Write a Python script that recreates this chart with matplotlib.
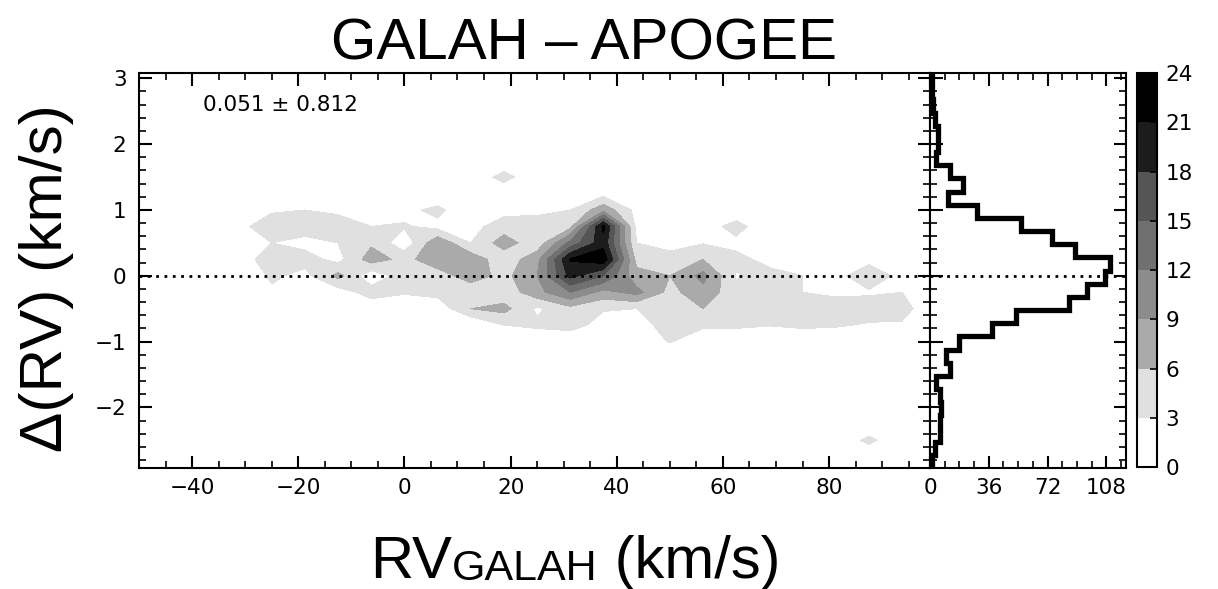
import numpy as np
import matplotlib
matplotlib.use("Agg")
import matplotlib.pyplot as plt
from matplotlib.ticker import MultipleLocator

# ======================== DATA ========================
# grid nodes of the 2D density (RV_GALAH, delta RV)
rv_nodes = [-50.0, -43.75, -37.5, -31.25, -25.0, -18.75, -12.5, -6.25, 0.0,
            6.25, 12.5, 18.75, 25.0, 31.25, 37.5, 43.75, 50.0, 56.25, 62.5,
            68.75, 75.0, 81.25, 87.5, 93.75, 100.0]
drv_nodes = [-3.0, -2.75, -2.5, -2.25, -2.0, -1.75, -1.5, -1.25, -1.0, -0.75,
             -0.5, -0.25, 0.0, 0.25, 0.5, 0.75, 1.0, 1.25, 1.5, 1.75, 2.0,
             2.25, 2.5, 2.75, 3.0]

# density block: rows dRV = 1.5 ... -1.0, columns RV = -31.25 ... 93.75
block_rv = rv_nodes[3:24]
block_drv = [1.5, 1.25, 1.0, 0.75, 0.5, 0.25, 0.0, -0.25, -0.5, -0.75, -1.0]
density_block = [
    [0, 0, 0, 0, 0, 0, 0, 0, 4.5, 0, 0, 1, 0, 0, 0, 0, 0, 0, 0, 0, 0],
    [0, 0, 1, 1, 0, 0, 0, 0, 0, 1, 1, 2, 1, 0, 0, 0, 0, 0, 0, 0, 0],
    [0, 2.5, 3, 2.6, 1.5, 2, 4, 0, 2, 2, 3, 8, 2, 1, 0, 0, 0, 0, 0, 0, 0],
    [2, 5, 4.5, 4, 3.0, 3.3, 2, 2, 4.5, 5, 5, 21.8, 2, 1, 1, 4.5, 0, 0, 0, 0, 0],
    [1, 3, 2, 3, 5.5, 1, 8.4, 3, 7.5, 4, 13, 20, 3, 2, 2.8, 2, 1, 0, 0, 0, 0],
    [2, 4, 4.3, 2, 7.5, 5, 8, 8, 4, 8, 21.3, 23, 5, 4, 6, 4, 2, 1, 1, 2, 1],
    [0, 3.6, 2, 7, 1, 4.5, 4.5, 7.5, 5, 9, 19, 15, 7, 6, 10, 2.7, 4, 3, 2, 5, 2],
    [0, 2.4, 1, 1.5, 4.3, 3.3, 4, 4, 4, 8, 12, 8, 10, 5, 8, 4, 4, 3, 2.6, 2.6, 3],
    [0, 0, 0, 1, 1, 1, 1, 6, 7, 2.5, 5, 3.2, 3, 6, 6, 4, 4.5, 4, 4, 4.5, 4.5],
    [0, 0, 0, 0, 0, 0, 0, 0, 3, 3.5, 4, 2, 2, 4, 3.5, 3.5, 3.1, 3.5, 3.3, 2.7, 2.5],
    [0, 0, 0, 0, 0, 0, 0, 0, 1, 1, 1, 1, 1, 3.2, 1, 1, 1, 1, 1, 1, 1],
]
# isolated cell far from the block
lone_rv = [87.5]
lone_drv = [-2.5]
lone_val = [4]

levels = [0, 3, 6, 9, 12, 15, 18, 21, 24]
level_colors = ['#ffffff', '#e0e0e0', '#aaaaaa', '#8c8c8c', '#707070',
                '#555555', '#1c1c1c', '#000000']

# marginal histogram of delta RV
hist_edges = [-2.92, -2.72, -2.52, -2.32, -2.12, -1.92, -1.72, -1.52, -1.32,
              -1.12, -0.92, -0.72, -0.52, -0.32, -0.12, 0.08, 0.28, 0.48,
              0.68, 0.88, 1.08, 1.28, 1.48, 1.68, 1.88, 2.08, 2.28, 2.48,
              2.68, 2.88, 3.08]
hist_counts = [1, 3, 6, 6, 7, 6, 4, 12, 10, 18, 38, 53, 85, 96, 107, 110,
               89, 75, 56, 29, 11, 20, 12, 4, 5, 5, 3, 2, 1, 1]

stats_text = "0.051 ± 0.812"

# ================= BUILD GRID =================
Z = np.zeros((len(drv_nodes), len(rv_nodes)))
for r, dv in enumerate(block_drv):
    j = int(np.argmin(np.abs(np.array(drv_nodes) - dv)))
    for c, rv in enumerate(block_rv):
        i = int(np.argmin(np.abs(np.array(rv_nodes) - rv)))
        Z[j, i] = density_block[r][c]
for rv, dv, v in zip(lone_rv, lone_drv, lone_val):
    i = int(np.argmin(np.abs(np.array(rv_nodes) - rv)))
    j = int(np.argmin(np.abs(np.array(drv_nodes) - dv)))
    Z[j, i] = v

# ==================== PLOT ====================
fig = plt.figure(figsize=(12.18, 5.89), dpi=100)
ax = fig.add_axes([0.1141, 0.2054, 0.6494, 0.6706])
axh = fig.add_axes([0.7635, 0.2054, 0.1609, 0.6706])
cax = fig.add_axes([0.9335, 0.2071, 0.0164, 0.6689])

dotted = (0, (1, 2))

cs = ax.contourf(rv_nodes, drv_nodes, Z, levels=levels, colors=level_colors)
ax.axhline(0, color='k', lw=2, linestyle=dotted)
ax.set_xlim(-50, 99)
ax.set_ylim(-2.92, 3.08)
ax.xaxis.set_major_locator(MultipleLocator(20))
ax.xaxis.set_minor_locator(MultipleLocator(5))
ax.yaxis.set_major_locator(MultipleLocator(1))
ax.yaxis.set_minor_locator(MultipleLocator(0.2))
ax.text(0.081, 0.904, stats_text, transform=ax.transAxes, fontsize=15.5,
        va='baseline', ha='left')

axh.stairs(hist_counts, hist_edges, orientation='horizontal', baseline=0,
           color='k', lw=3.8)
axh.axhline(0, color='k', lw=2, linestyle=dotted)
axh.set_xlim(0, 120)
axh.set_ylim(-2.92, 3.08)
axh.xaxis.set_major_locator(MultipleLocator(36))
axh.xaxis.set_minor_locator(MultipleLocator(9))
axh.yaxis.set_major_locator(MultipleLocator(1))
axh.yaxis.set_minor_locator(MultipleLocator(0.2))
axh.tick_params(labelleft=False)

for a in (ax, axh):
    for s in a.spines.values():
        s.set_linewidth(1.5)
    a.tick_params(which='both', direction='in', top=True, right=True,
                  labelsize=15.5)
    a.tick_params(which='major', length=9, width=1.5)
    a.tick_params(which='minor', length=5, width=1.2)
    a.tick_params(axis='x', pad=7)
    a.tick_params(axis='y', pad=9)

cb = fig.colorbar(cs, cax=cax, ticks=levels)
cb.outline.set_linewidth(1.5)
cb.ax.tick_params(direction='in', length=5, width=1.2, labelsize=15.5, pad=6)

fam = 'Liberation Sans'
fig.text(584 / 1218, 1 - 60 / 589, "GALAH – APOGEE", ha='center',
         va='baseline', family=fam, fontsize=42)
fig.text(47 / 1218, 1 - 278 / 589, "Δ(RV) (km/s)", rotation=90,
         ha='center', va='center', family=fam, fontsize=43.5)

# x label: "RV" + small "GALAH" + " (km/s)", laid out side by side
renderer = fig.canvas.get_renderer()
parts = [("RV", 43, 0), ("GALAH", 31, -2), (" (km/s)", 43, 0)]
texts = []
for s, fs, dy in parts:
    t = fig.text(0, 1 - (578 - dy) / 589, s, ha='left', va='baseline',
                 family=fam, fontsize=fs)
    texts.append(t)
widths = [t.get_window_extent(renderer=renderer).width for t in texts]
x = 575 - sum(widths) / 2
for t, w in zip(texts, widths):
    t.set_x(x / 1218)
    x += w

fig.savefig("out.png", dpi=100)
